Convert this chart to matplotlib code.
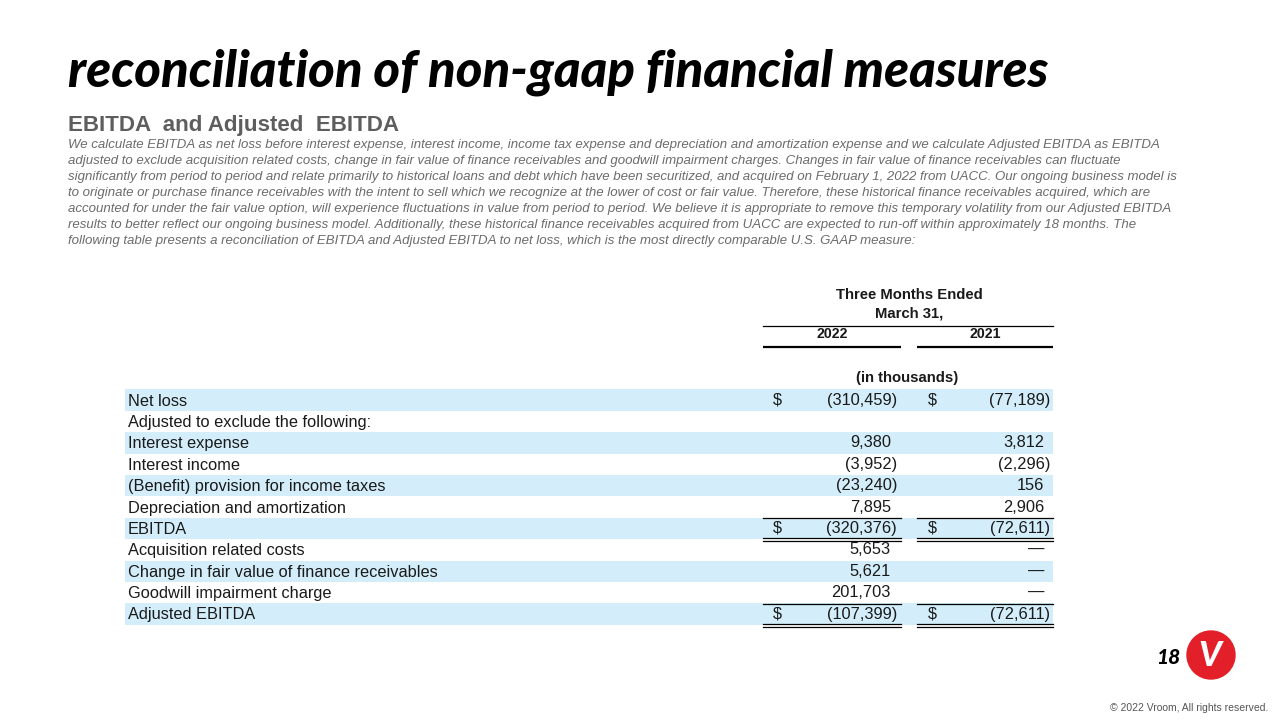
import matplotlib
matplotlib.use("Agg")
import matplotlib.pyplot as plt
from matplotlib.patches import Circle

# slide text
title = "reconciliation of non-gaap financial measures"
subtitle = "EBITDA  and Adjusted  EBITDA"
paragraph = [
    "We calculate EBITDA as net loss before interest expense, interest income, income tax expense and depreciation and amortization expense and we calculate Adjusted EBITDA as EBITDA",
    "adjusted to exclude acquisition related costs, change in fair value of finance receivables and goodwill impairment charges. Changes in fair value of finance receivables can fluctuate",
    "significantly from period to period and relate primarily to historical loans and debt which have been securitized, and acquired on February 1, 2022 from UACC. Our ongoing business model is",
    "to originate or purchase finance receivables with the intent to sell which we recognize at the lower of cost or fair value. Therefore, these historical finance receivables acquired, which are",
    "accounted for under the fair value option, will experience fluctuations in value from period to period. We believe it is appropriate to remove this temporary volatility from our Adjusted EBITDA",
    "results to better reflect our ongoing business model. Additionally, these historical finance receivables acquired from UACC are expected to run-off within approximately 18 months. The",
    "following table presents a reconciliation of EBITDA and Adjusted EBITDA to net loss, which is the most directly comparable U.S. GAAP measure:",
]

# table data (in thousands), None = blank, 0 = dash
row_labels = [
    "Net loss",
    "Adjusted to exclude the following:",
    "Interest expense",
    "Interest income",
    "(Benefit) provision for income taxes",
    "Depreciation and amortization",
    "EBITDA",
    "Acquisition related costs",
    "Change in fair value of finance receivables",
    "Goodwill impairment charge",
    "Adjusted EBITDA",
]
v2022 = [-310459, None, 9380, -3952, -23240, 7895, -320376, 5653, 5621, 201703, -107399]
v2021 = [-77189, None, 3812, -2296, 156, 2906, -72611, 0, 0, 0, -72611]
dollar_rows = ["Net loss", "EBITDA", "Adjusted EBITDA"]
total_rows = ["EBITDA", "Adjusted EBITDA"]
years = ["2022", "2021"]

BLUE = "#d3eefa"
GRAY = "#6b6b6b"
TXT = "#1a1a1a"

fig = plt.figure(figsize=(12.8, 7.2), dpi=100)
ax = fig.add_axes([0, 0, 1, 1])
ax.set_xlim(0, 1280)
ax.set_ylim(720, 0)
ax.axis("off")
renderer = fig.canvas.get_renderer()


def fit(t, width):
    # scale the font so the text spans the given pixel width
    w = t.get_window_extent(renderer).width
    t.set_fontsize(t.get_fontsize() * width / w)
    return t.get_fontsize()


t = ax.text(68, 86, title, fontsize=30, fontweight="black", style="italic",
            family=["Lato", "DejaVu Sans"], color="black", va="baseline")
fit(t, 979)

t = ax.text(68, 131, subtitle, fontsize=14, fontweight="bold",
            family="Liberation Sans", color="#5e5e5e", va="baseline")
fit(t, 332)

t = ax.text(68, 148, paragraph[0], fontsize=9, style="italic",
            family="Liberation Sans", color=GRAY, va="baseline")
psize = fit(t, 1095)
for i, line in enumerate(paragraph[1:], start=1):
    ax.text(68, 148 + 16 * i, line, fontsize=psize, style="italic",
            family="Liberation Sans", color=GRAY, va="baseline")

# header
hkw = dict(fontweight="bold", family="Liberation Sans", color=TXT, ha="center", va="center")
t = ax.text(909, 295, "Three Months Ended", fontsize=10, **hkw)
hsize = fit(t, 148)
ax.text(909, 314, "March 31,", fontsize=hsize, **hkw)
ax.plot([763, 1053], [325.5, 325.5], color="black", lw=0.9)
col_x = [(763, 901), (917, 1053)]
for (x0, x1), yr in zip(col_x, years):
    ax.text((x0 + x1) / 2, 334, yr, fontsize=hsize * 0.95, **hkw)
    ax.plot([x0, x1], [347, 347], color="black", lw=1.6, solid_capstyle="butt")
ax.text(907, 378, "(in thousands)", fontsize=hsize, **hkw)

# rows
n = len(row_labels)
row_y = [400 + 21.4 * i for i in range(n)]
shaded = [y for i, y in enumerate(row_y) if i % 2 == 0]
ax.barh(shaded, 928, left=125, height=21.4, color=BLUE, zorder=0)

t = ax.text(128, row_y[8], row_labels[8], fontsize=11, family="Liberation Sans",
            color=TXT, va="center")
lsize = fit(t, 308)
t.remove()

dollar_x = [777, 932]
num_right = [891, 1044]


def fmt(v):
    if v == 0:
        return "\u2014"
    s = f"{abs(v):,}"
    return f"({s})" if v < 0 else s


for i, (lab, y) in enumerate(zip(row_labels, row_y)):
    ax.text(128, y + 1, lab, fontsize=lsize, family="Liberation Sans", color=TXT, va="center")
    for c, vals in enumerate([v2022, v2021]):
        v = vals[i]
        if v is None:
            continue
        xr = num_right[c] + (6 if v < 0 else 0)
        ax.text(xr, y, fmt(v), fontsize=lsize, family="Liberation Sans",
                color=TXT, ha="right", va="center")
        if lab in dollar_rows:
            ax.text(dollar_x[c], y, "$", fontsize=lsize, family="Liberation Sans",
                    color=TXT, ha="center", va="center")
    if lab in total_rows:
        for x0, x1 in col_x:
            ax.plot([x0, x1], [y - 10.5, y - 10.5], color="black", lw=0.9)
            ax.plot([x0, x1], [y + 10, y + 10], color="black", lw=0.9)
            ax.plot([x0, x1], [y + 12.5, y + 12.5], color="black", lw=0.9)

# footer
ax.text(1180, 664, "18", fontsize=15, fontweight="black", style="italic",
        family=["Lato", "DejaVu Sans"], color="black", ha="right", va="baseline")
ax.add_patch(Circle((1211, 655), 24, color="#e3202a", zorder=3))
ax.text(1210, 656, "V", fontsize=25, fontweight="black", style="italic",
        family=["Lato", "DejaVu Sans"], color="white", ha="center", va="center", zorder=4)
ax.text(1268, 708, "\u00a9 2022 Vroom, All rights reserved.", fontsize=7.5,
        family="Liberation Sans", color="#555555", ha="right", va="center")

fig.savefig("out.png", dpi=100)
